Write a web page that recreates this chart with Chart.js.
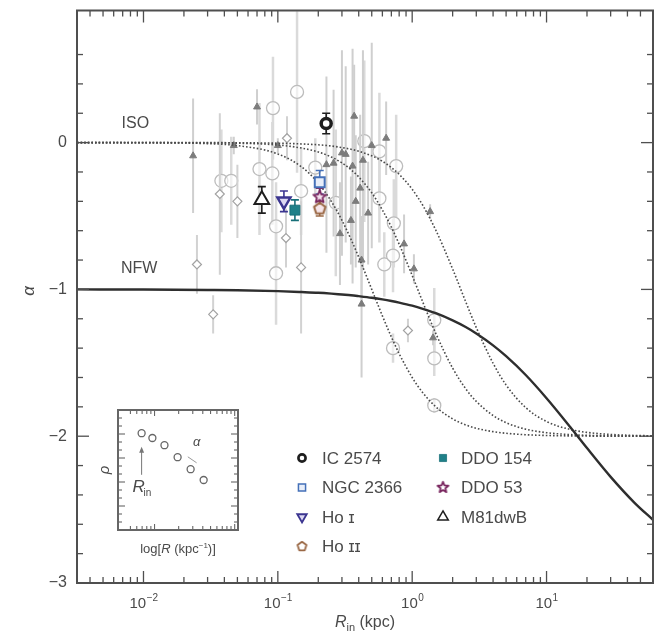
<!DOCTYPE html>
<html>
<head>
<meta charset="utf-8">
<script src="https://cdn.jsdelivr.net/npm/chart.js@4.4.1/dist/chart.umd.min.js"></script>
<style>
  html, body { margin: 0; padding: 0; background: #fff; }
  #wrap { position: relative; width: 670px; height: 636px; }
  #main { position: absolute; left: 0; top: 0; }
  #inset { position: absolute; left: 88px; top: 398px; }
</style>
</head>
<body>
<div id="wrap">
  <canvas id="main" width="670" height="636"></canvas>
  <canvas id="inset" width="172" height="160"></canvas>
</div>
<script>
// ── DATA ──────────────────────────────────────────────────────────

const decades = [-2, -1, 0, 1];

// model slopes, sampled along R (kpc)
const curveR = [0.0032, 0.01, 0.03, 0.05, 0.1, 0.15, 0.2, 0.25, 0.3, 0.35, 0.4, 0.5, 0.6, 0.7, 0.8, 1, 1.2, 1.5, 2, 2.5, 3, 4, 5, 7, 10, 15, 20, 30, 45, 62];
const nfwA  = [-1.000, -1.001, -1.004, -1.006, -1.012, -1.018, -1.023, -1.029, -1.035, -1.040, -1.046, -1.057, -1.068, -1.079, -1.090, -1.111, -1.132, -1.162, -1.211, -1.256, -1.300, -1.381, -1.455, -1.583, -1.741, -1.937, -2.081, -2.277, -2.452, -2.570];
const iso1A = [0, -0.001, -0.007, -0.020, -0.077, -0.165, -0.276, -0.400, -0.529, -0.658, -0.780, -1.000, -1.180, -1.324, -1.438, -1.600, -1.704, -1.800, -1.882, -1.923, -1.946, -1.969, -1.980, -1.990, -1.995, -1.998, -1.999, -2.000, -2.000, -2.000];
const iso2A = [0, 0, -0.002, -0.004, -0.016, -0.037, -0.064, -0.098, -0.138, -0.184, -0.234, -0.342, -0.459, -0.576, -0.692, -0.905, -1.087, -1.301, -1.536, -1.676, -1.763, -1.859, -1.908, -1.952, -1.976, -1.989, -1.994, -1.997, -1.999, -1.999];
const iso3A = [0, 0, 0, -0.001, -0.004, -0.009, -0.015, -0.023, -0.034, -0.045, -0.059, -0.090, -0.127, -0.170, -0.216, -0.318, -0.428, -0.597, -0.861, -1.083, -1.260, -1.503, -1.651, -1.805, -1.900, -1.954, -1.974, -1.988, -1.995, -1.997];

// comparison sample: open circles
const circR = [0.092, 0.139, 0.073, 0.091, 0.038, 0.045, 0.44, 0.76, 0.57, 0.27, 0.73, 0.62, 0.72, 0.097, 0.097, 0.149, 0.72, 1.46, 1.46, 1.46, 0.57, 0.19];
const circA = [0.235, 0.345, -0.18, -0.21, -0.26, -0.26, 0.01, -0.16, -0.38, -0.41, -0.55, -0.83, -0.77, -0.57, -0.89, -0.33, -1.40, -1.21, -1.47, -1.79, -0.06, -0.17];
const circE = [0.35, 0.55, 0.45, 0.35, 0.35, 0.30, 0.55, 0.35, 0.30, 0.50, 0.30, 0.22, 0.25, 0.30, 0.35, 0.30, 0.10, 0.22, 0.12, 0.05, 0.40, 0.20];

// comparison sample: diamonds
const diaR = [0.117, 0.037, 0.050, 0.025, 0.033, 0.115, 0.149, 0.93];
const diaA = [0.03, -0.35, -0.40, -0.83, -1.17, -0.65, -0.85, -1.28];
const diaE = [0.15, 0.55, 0.25, 0.20, 0.13, 0.20, 0.45, 0.08];

// comparison sample: filled triangles
const triR = [0.070, 0.0234, 0.047, 0.100, 0.37, 0.64, 0.23, 0.26, 0.30, 0.32, 0.36, 0.43, 0.41, 0.38, 0.47, 0.35, 0.29, 1.36, 0.87, 0.42, 1.03, 0.42, 1.43, 0.50];
const triA = [0.243, -0.09, -0.02, -0.02, 0.18, 0.03, -0.15, -0.14, -0.07, -0.08, -0.16, -0.12, -0.31, -0.40, -0.48, -0.53, -0.62, -0.47, -0.69, -0.80, -0.86, -1.10, -1.33, -0.02];
const triE = [0.12, 0.39, 0.06, 0.05, 0.35, 0.25, 0.60, 0.50, 0.70, 0.60, 0.80, 0.75, 0.50, 0.45, 0.35, 0.30, 0.35, 0.05, 0.20, 0.30, 0.10, 0.50, 0.05, 0.70];

// LITTLE THINGS galaxies
const galNames = ['IC 2574', 'NGC 2366', 'Ho ɪ', 'Ho ɪɪ', 'DDO 154', 'DDO 53', 'M81dwB'];
const galR   = [0.229, 0.205, 0.111, 0.205, 0.134, 0.205, 0.076];
const galA   = [0.13, -0.27, -0.40, -0.45, -0.46, -0.37, -0.39];
const galErr = [0.07, 0.08, 0.07, 0.05, 0.07, 0.06, 0.09];

// inset sketch
const insetR   = [0.69, 0.94, 1.33, 1.94, 2.82, 4.1];
const insetRho = [12.1, 11.5, 10.6, 9.1, 7.6, 6.25];
const slopeR   = [2.6, 3.35];
const slopeRho = [9.15, 8.4];

// ── STYLE ─────────────────────────────────────────────────────────

const FONT = '"Liberation Sans", "DejaVu Sans", Arial, sans-serif';
const INK = '#4a4a4a';
Chart.defaults.font.family = FONT;

function polyCanvas(size, n, inner, stroke, fill, lw) {
  const c = document.createElement('canvas');
  c.width = c.height = size;
  const g = c.getContext('2d');
  const m = size / 2, r = m - lw;
  const k = inner ? n * 2 : n;
  g.beginPath();
  for (let i = 0; i < k; i++) {
    const rr = inner && i % 2 ? r * inner : r;
    const t = -Math.PI / 2 + i * 2 * Math.PI / k;
    g.lineTo(m + rr * Math.cos(t), m + rr * Math.sin(t));
  }
  g.closePath();
  g.fillStyle = fill; g.fill();
  g.lineWidth = lw; g.lineJoin = 'round'; g.strokeStyle = stroke; g.stroke();
  return c;
}

const galStyle = [
  { shape: 'circle',   rot: 0,   r: 5,   bw: 3.5, stroke: '#1e1e1e', fill: '#ffffff' },
  { shape: 'rect',     rot: 0,   r: 7,   bw: 2,   stroke: '#4470b8', fill: '#e8eef9' },
  { shape: 'triangle', rot: 180, r: 7.5, bw: 2.5, stroke: '#3b3590', fill: '#dcd8f2' },
  { shape: polyCanvas(16, 5, 0, '#9a6845', '#f6e6ea', 2), legend: polyCanvas(13, 5, 0, '#9a6845', '#ffffff', 1.8), rot: 0, r: 7, bw: 0, stroke: '#9a6845', fill: '#fff' },
  { shape: 'rect',     rot: 0,   r: 7,   bw: 1,   stroke: '#176f78', fill: '#1f8088' },
  { shape: polyCanvas(17, 5, 0.45, '#7a2860', '#f3e2ee', 1.8), legend: polyCanvas(15, 5, 0.45, '#7a2860', '#ffffff', 1.8), rot: 0, r: 7, bw: 0, stroke: '#7a2860', fill: '#fff' },
  { shape: 'triangle', rot: 0,   r: 8.5, bw: 2,   stroke: '#1e1e1e', fill: '#ffffff' },
];

const pts = (xs, ys) => xs.map((x, i) => ({ x, y: ys[i] }));
const isWhole = v => Math.abs(v - Math.round(v)) < 1e-6;
const mantissa = v => v / Math.pow(10, Math.floor(Math.log10(v) + 1e-9));
const isLogStep = v => isWhole(mantissa(v));
const isDecade = v => Math.abs(mantissa(v) - 1) < 1e-6;

function line(ctx, x0, y0, x1, y1) {
  ctx.beginPath(); ctx.moveTo(x0, y0); ctx.lineTo(x1, y1); ctx.stroke();
}

// ── PLUGINS ───────────────────────────────────────────────────────

const errorBars = {
  id: 'errorBars',
  beforeDatasetDraw(chart, args) {
    const ds = chart.data.datasets[args.index];
    if (!ds.errs) return;
    const { ctx, chartArea: a, scales: { x, y } } = chart;
    ctx.save();
    ctx.beginPath();
    ctx.rect(a.left, a.top, a.right - a.left, a.bottom - a.top);
    ctx.clip();
    ctx.lineWidth = ds.errWidth;
    ds.data.forEach((p, i) => {
      const px = x.getPixelForValue(p.x);
      const y0 = y.getPixelForValue(p.y + ds.errs[i]);
      const y1 = y.getPixelForValue(p.y - ds.errs[i]);
      ctx.strokeStyle = Array.isArray(ds.errColor) ? ds.errColor[i] : ds.errColor;
      line(ctx, px, y0, px, y1);
      if (ds.errCap) {
        line(ctx, px - ds.errCap, y0, px + ds.errCap, y0);
        line(ctx, px - ds.errCap, y1, px + ds.errCap, y1);
      }
    });
    ctx.restore();
  }
};

const curveLabels = [
  { text: 'ISO', r: 0.0087, a: 0.13 },
  { text: 'NFW', r: 0.0093, a: -0.86 },
];

function drawMarker(ctx, s, px, py, k) {
  ctx.save();
  ctx.strokeStyle = s.stroke;
  ctx.fillStyle = s.fill;
  ctx.lineWidth = s.bw * 0.75;
  Chart.helpers.drawPoint(ctx, {
    pointStyle: s.legend || s.shape, rotation: s.rot, radius: s.r * k, borderWidth: s.bw
  }, px, py);
  ctx.restore();
}

const frame = {
  id: 'frame',
  afterDraw(chart) {
    const { ctx, chartArea: a, scales: { x, y } } = chart;
    ctx.save();
    ctx.strokeStyle = '#4f4f4f';
    ctx.lineWidth = 1.3;
    x.ticks.forEach(t => {
      const px = x.getPixelForValue(t.value);
      if (px < a.left + 2 || px > a.right - 2) return;
      const len = isDecade(t.value) ? 12 : 6;
      line(ctx, px, a.bottom, px, a.bottom - len);
      line(ctx, px, a.top, px, a.top + len);
    });
    y.ticks.forEach(t => {
      const py = y.getPixelForValue(t.value);
      if (py < a.top + 2 || py > a.bottom - 2) return;
      const len = isWhole(t.value) ? 12 : 6;
      line(ctx, a.left, py, a.left + len, py);
      line(ctx, a.right, py, a.right - len, py);
    });
    ctx.lineWidth = 2;
    ctx.strokeRect(a.left, a.top, a.right - a.left, a.bottom - a.top);

    // decade labels with raised exponents
    ctx.fillStyle = INK;
    ctx.textBaseline = 'alphabetic';
    ctx.textAlign = 'left';
    decades.forEach(d => {
      const px = x.getPixelForValue(Math.pow(10, d));
      const sup = d < 0 ? '−' + (-d) : String(d);
      ctx.font = '15px ' + FONT;
      const wb = ctx.measureText('10').width;
      ctx.font = '10px ' + FONT;
      const ws = ctx.measureText(sup).width;
      const x0 = px - (wb + ws) / 2;
      ctx.font = '15px ' + FONT;
      ctx.fillText('10', x0, a.bottom + 25);
      ctx.font = '10px ' + FONT;
      ctx.fillText(sup, x0 + wb + 0.5, a.bottom + 18);
    });

    // x title: R_in (kpc)
    const parts = [
      { t: 'R', f: 'italic 16px ', dy: 0 },
      { t: 'in', f: '11px ', dy: 4 },
      { t: ' (kpc)', f: '16px ', dy: 0 },
    ];
    let w = 0;
    parts.forEach(p => { ctx.font = p.f + FONT; p.w = ctx.measureText(p.t).width; w += p.w; });
    let cx = (a.left + a.right) / 2 - w / 2;
    parts.forEach(p => { ctx.font = p.f + FONT; ctx.fillText(p.t, cx, a.bottom + 44 + p.dy); cx += p.w; });

    // y title
    ctx.save();
    ctx.translate(29, 291);
    ctx.rotate(-Math.PI / 2);
    ctx.font = 'italic 17px ' + FONT;
    ctx.textAlign = 'center';
    ctx.textBaseline = 'middle';
    ctx.fillText('α', 0, 0);
    ctx.restore();

    // curve names
    ctx.font = '16px ' + FONT;
    ctx.textAlign = 'center';
    ctx.textBaseline = 'middle';
    curveLabels.forEach(l => ctx.fillText(l.text, x.getPixelForValue(l.r), y.getPixelForValue(l.a)));

    // legend, two columns
    galNames.forEach((name, i) => {
      const col = i < 4 ? 0 : 1;
      const row = col ? i - 4 : i;
      const mx = col ? 443 : 302;
      const my = 458 + row * 29.5;
      drawMarker(ctx, galStyle[i], mx, my, 0.72);
      ctx.fillStyle = INK;
      ctx.font = '17px ' + FONT;
      ctx.textAlign = 'left';
      ctx.textBaseline = 'middle';
      ctx.fillText(name, col ? 461 : 322, my + 1);
    });
    ctx.restore();
  }
};

// ── MAIN CHART ────────────────────────────────────────────────────

const grayCommon = { showLine: false, pointHoverRadius: 0 };

new Chart(document.getElementById('main'), {
  type: 'scatter',
  data: {
    datasets: [
      {
        label: 'galaxies', data: pts(galR, galA), order: 0, showLine: false,
        errs: galErr, errColor: galStyle.map(s => s.stroke), errWidth: 1.6, errCap: 4,
        pointStyle: galStyle.map(s => s.shape),
        pointRotation: galStyle.map(s => s.rot),
        pointRadius: galStyle.map(s => s.r),
        pointBorderWidth: galStyle.map(s => s.bw),
        pointBorderColor: galStyle.map(s => s.stroke),
        pointBackgroundColor: galStyle.map(s => s.fill),
      },
      { label: 'NFW', data: pts(curveR, nfwA), order: 5, showLine: true, pointRadius: 0,
        borderColor: '#2e2e2e', borderWidth: 2.4, cubicInterpolationMode: 'monotone' },
      { label: 'ISO 1', data: pts(curveR, iso1A), order: 5, showLine: true, pointRadius: 0,
        borderColor: '#4a4a4a', borderWidth: 1.6, borderDash: [1.6, 2], cubicInterpolationMode: 'monotone' },
      { label: 'ISO 2', data: pts(curveR, iso2A), order: 5, showLine: true, pointRadius: 0,
        borderColor: '#4a4a4a', borderWidth: 1.6, borderDash: [1.6, 2], cubicInterpolationMode: 'monotone' },
      { label: 'ISO 3', data: pts(curveR, iso3A), order: 5, showLine: true, pointRadius: 0,
        borderColor: '#4a4a4a', borderWidth: 1.6, borderDash: [1.6, 2], cubicInterpolationMode: 'monotone' },
      { ...grayCommon, label: 'triangles', data: pts(triR, triA), order: 10,
        errs: triE, errColor: '#cfcfcf', errWidth: 2,
        pointStyle: 'triangle', pointRadius: 4, pointBorderWidth: 1,
        pointBorderColor: '#7c7c7c', pointBackgroundColor: '#7c7c7c' },
      { ...grayCommon, label: 'diamonds', data: pts(diaR, diaA), order: 11,
        errs: diaE, errColor: '#d2d2d2', errWidth: 2,
        pointStyle: 'rectRot', pointRadius: 4.5, pointBorderWidth: 1.2,
        pointBorderColor: '#a3a3a3', pointBackgroundColor: '#ffffff' },
      { ...grayCommon, label: 'circles', data: pts(circR, circA), order: 12,
        errs: circE, errColor: '#dadada', errWidth: 2.5,
        pointStyle: 'circle', pointRadius: 6.5, pointBorderWidth: 1.3,
        pointBorderColor: '#bcbcbc', pointBackgroundColor: 'rgba(255,255,255,0.6)' },
    ]
  },
  options: {
    responsive: false,
    animation: false,
    devicePixelRatio: 1,
    events: [],
    layout: { padding: { top: 9, right: 17, left: 0, bottom: 0 } },
    plugins: { legend: { display: false }, tooltip: { enabled: false } },
    scales: {
      x: {
        type: 'logarithmic', min: 0.0032, max: 62,
        grid: { display: false, drawTicks: false }, border: { display: false },
        ticks: { display: false },
        afterBuildTicks(s) { s.ticks = s.ticks.filter(t => isLogStep(t.value)); },
        afterFit(s) { s.height = 53; s.paddingLeft = 0; s.paddingRight = 0; },
      },
      y: {
        min: -3, max: 0.9,
        grid: { display: false, drawTicks: false }, border: { display: false },
        ticks: {
          stepSize: 0.2, maxTicksLimit: 40, autoSkip: false, padding: 10,
          color: INK, font: { size: 16 },
          callback: v => isWhole(v) ? (Math.round(v) < 0 ? '−' + Math.abs(Math.round(v)) : String(Math.round(v))) : '',
        },
        afterFit(s) { s.width = 77; s.paddingTop = 0; s.paddingBottom = 0; },
      },
    },
  },
  plugins: [errorBars, frame],
});

// ── INSET ─────────────────────────────────────────────────────────

const insetFrame = {
  id: 'insetFrame',
  afterDraw(chart) {
    const { ctx, chartArea: a, scales: { x, y } } = chart;
    ctx.save();
    ctx.strokeStyle = '#666';
    ctx.lineWidth = 1.1;
    x.ticks.forEach(t => {
      const px = x.getPixelForValue(t.value);
      if (px < a.left + 2 || px > a.right - 2) return;
      const len = isDecade(t.value) ? 6 : 4;
      line(ctx, px, a.bottom, px, a.bottom - len);
      line(ctx, px, a.top, px, a.top + len);
    });
    y.ticks.forEach(t => {
      const py = y.getPixelForValue(t.value);
      if (py < a.top + 2 || py > a.bottom - 2) return;
      const len = Math.round(t.value) % 3 === 0 ? 7 : 4;
      line(ctx, a.left, py, a.left + len, py);
      line(ctx, a.right, py, a.right - len, py);
    });
    ctx.lineWidth = 2;
    ctx.strokeRect(a.left, a.top, a.right - a.left, a.bottom - a.top);

    // arrow marking the innermost radius
    const ax = x.getPixelForValue(insetR[0]);
    const ay0 = y.getPixelForValue(6.9), ay1 = y.getPixelForValue(10.4);
    ctx.strokeStyle = '#777';
    ctx.lineWidth = 1;
    line(ctx, ax, ay0, ax, ay1 + 3);
    ctx.fillStyle = '#777';
    ctx.beginPath();
    ctx.moveTo(ax, ay1); ctx.lineTo(ax - 2.5, ay1 + 6); ctx.lineTo(ax + 2.5, ay1 + 6);
    ctx.closePath(); ctx.fill();

    ctx.fillStyle = INK;
    ctx.textBaseline = 'middle';
    ctx.textAlign = 'left';
    ctx.font = 'italic 17px ' + FONT;
    ctx.fillText('R', ax - 9, y.getPixelForValue(5.3));
    ctx.font = '10px ' + FONT;
    ctx.fillText('in', ax + 2, y.getPixelForValue(5.3) + 6);
    ctx.font = 'italic 13px ' + FONT;
    ctx.textAlign = 'center';
    ctx.fillText('α', x.getPixelForValue(3.35), y.getPixelForValue(11.0));

    // rho label, rotated
    ctx.save();
    ctx.translate(17, 72);
    ctx.rotate(-Math.PI / 2);
    ctx.font = 'italic 15px ' + FONT;
    ctx.fillText('ρ', 0, 0);
    ctx.restore();

    // log[R (kpc^-1)]
    const parts = [
      { t: 'log[', f: '13px ', dy: 0 },
      { t: 'R', f: 'italic 13px ', dy: 0 },
      { t: ' (kpc', f: '13px ', dy: 0 },
      { t: '−1', f: '8px ', dy: -5 },
      { t: ')]', f: '13px ', dy: 0 },
    ];
    ctx.textAlign = 'left';
    ctx.textBaseline = 'alphabetic';
    let w = 0;
    parts.forEach(p => { ctx.font = p.f + FONT; p.w = ctx.measureText(p.t).width; w += p.w; });
    let cx = (a.left + a.right) / 2 - w / 2;
    parts.forEach(p => { ctx.font = p.f + FONT; ctx.fillText(p.t, cx, a.bottom + 23 + p.dy); cx += p.w; });
    ctx.restore();
  }
};

new Chart(document.getElementById('inset'), {
  type: 'scatter',
  data: {
    datasets: [
      { label: 'profile', data: pts(insetR, insetRho), showLine: false,
        pointStyle: 'circle', pointRadius: 3.5, pointBorderWidth: 1.3,
        pointBorderColor: '#666', pointBackgroundColor: '#fff' },
      { label: 'slope', data: pts(slopeR, slopeRho), showLine: true, pointRadius: 0,
        borderColor: '#999', borderWidth: 1 },
    ]
  },
  options: {
    responsive: false,
    animation: false,
    devicePixelRatio: 1,
    events: [],
    layout: { padding: { top: 12, right: 22, left: 30, bottom: 28 } },
    plugins: { legend: { display: false }, tooltip: { enabled: false } },
    scales: {
      x: {
        type: 'logarithmic', min: 0.35, max: 11,
        grid: { display: false, drawTicks: false }, border: { display: false },
        ticks: { display: false },
        afterBuildTicks(s) { s.ticks = s.ticks.filter(t => isLogStep(t.value)); },
        afterFit(s) { s.height = 0; },
      },
      y: {
        min: 0, max: 15,
        grid: { display: false, drawTicks: false }, border: { display: false },
        ticks: { display: false, stepSize: 1, maxTicksLimit: 40 },
        afterFit(s) { s.width = 0; },
      },
    },
  },
  plugins: [insetFrame],
});
</script>
</body>
</html>
